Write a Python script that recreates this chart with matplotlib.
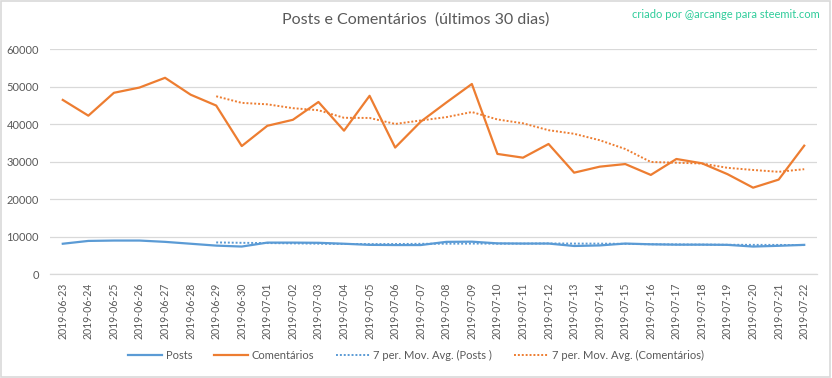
import matplotlib
matplotlib.use("Agg")
import matplotlib.pyplot as plt
from matplotlib.patches import Rectangle
import pandas as pd

# daily counts
dates = ["2019-06-23", "2019-06-24", "2019-06-25", "2019-06-26", "2019-06-27",
         "2019-06-28", "2019-06-29", "2019-06-30", "2019-07-01", "2019-07-02",
         "2019-07-03", "2019-07-04", "2019-07-05", "2019-07-06", "2019-07-07",
         "2019-07-08", "2019-07-09", "2019-07-10", "2019-07-11", "2019-07-12",
         "2019-07-13", "2019-07-14", "2019-07-15", "2019-07-16", "2019-07-17",
         "2019-07-18", "2019-07-19", "2019-07-20", "2019-07-21", "2019-07-22"]

posts = [8150, 8900, 9000, 9000, 8650, 8150, 7650, 7400, 8450, 8450,
         8400, 8150, 7850, 7800, 7800, 8650, 8700, 8250, 8200, 8200,
         7550, 7700, 8200, 8000, 7900, 7900, 7850, 7400, 7600, 7850]

comments = [46500, 42300, 48400, 49800, 52400, 47900, 45000, 34200, 39600, 41200,
            45950, 38300, 47600, 33800, 40700, 45800, 50750, 32100, 31100, 34750,
            27100, 28700, 29400, 26500, 30750, 29600, 26700, 23100, 25250, 34300]

yticks = [0, 10000, 20000, 30000, 40000, 50000, 60000]

# Excel "7 per. Mov. Avg." trendlines
posts_ma = pd.Series(posts).rolling(7).mean()
comments_ma = pd.Series(comments).rolling(7).mean()

blue = "#5B9BD5"
orange = "#ED7D31"
grey = "#595959"
grid = "#D9D9D9"

plt.rcParams["font.family"] = ["Lato", "DejaVu Sans"]

fig = plt.figure(figsize=(8.32, 3.78), dpi=100)
ax = fig.add_axes([50 / 832, 1 - 274.3 / 378, 767 / 832, 225 / 378])

x = list(range(len(dates)))
ax.plot(x, posts, color=blue, lw=1.6, label="Posts", zorder=3)
ax.plot(x, comments, color=orange, lw=1.6, label="Comentários", zorder=3)
ax.plot(x, posts_ma, color=blue, lw=1.4, ls=(0, (1, 1)), label="7 per. Mov. Avg. (Posts )", zorder=2)
ax.plot(x, comments_ma, color=orange, lw=1.4, ls=(0, (1, 1)),
        label="7 per. Mov. Avg. (Comentários)", zorder=2)

ax.set_xlim(-0.5, len(dates) - 0.5)
ax.set_ylim(0, 60000)
ax.set_yticks(yticks)
ax.set_yticklabels([str(v) for v in yticks])
ax.set_xticks(x)
ax.set_xticklabels(dates, rotation=90)
ax.tick_params(axis="y", length=0, labelsize=8, colors=grey, pad=8)
ax.tick_params(axis="x", length=0, labelsize=7.6, colors=grey, pad=6)
ax.grid(axis="y", color=grid, lw=0.9)
ax.set_axisbelow(True)
for s in ["top", "right", "left"]:
    ax.spines[s].set_visible(False)
ax.spines["bottom"].set_color(grid)
ax.spines["bottom"].set_linewidth(0.9)

fig.text(416 / 832, 1 - 20 / 378, "Posts e Comentários  (últimos 30 dias)",
         ha="center", va="center", fontsize=11.5, color=grey)
fig.text(820 / 832, 1 - 15 / 378, "criado por @arcange para steemit.com",
         ha="right", va="center", fontsize=8, color="#2ECC9A")

fig.legend(loc="center", bbox_to_anchor=(0.5, 1 - 355 / 378), ncol=4,
           frameon=False, fontsize=8, handlelength=3.0, handletextpad=0.35,
           columnspacing=2.0, labelcolor=grey)

fig.patches.append(Rectangle((0.001, 0.002), 0.997, 0.996, transform=fig.transFigure,
                             fill=False, edgecolor=grid, lw=1.2))

fig.savefig("out.png", dpi=100, facecolor="white")
